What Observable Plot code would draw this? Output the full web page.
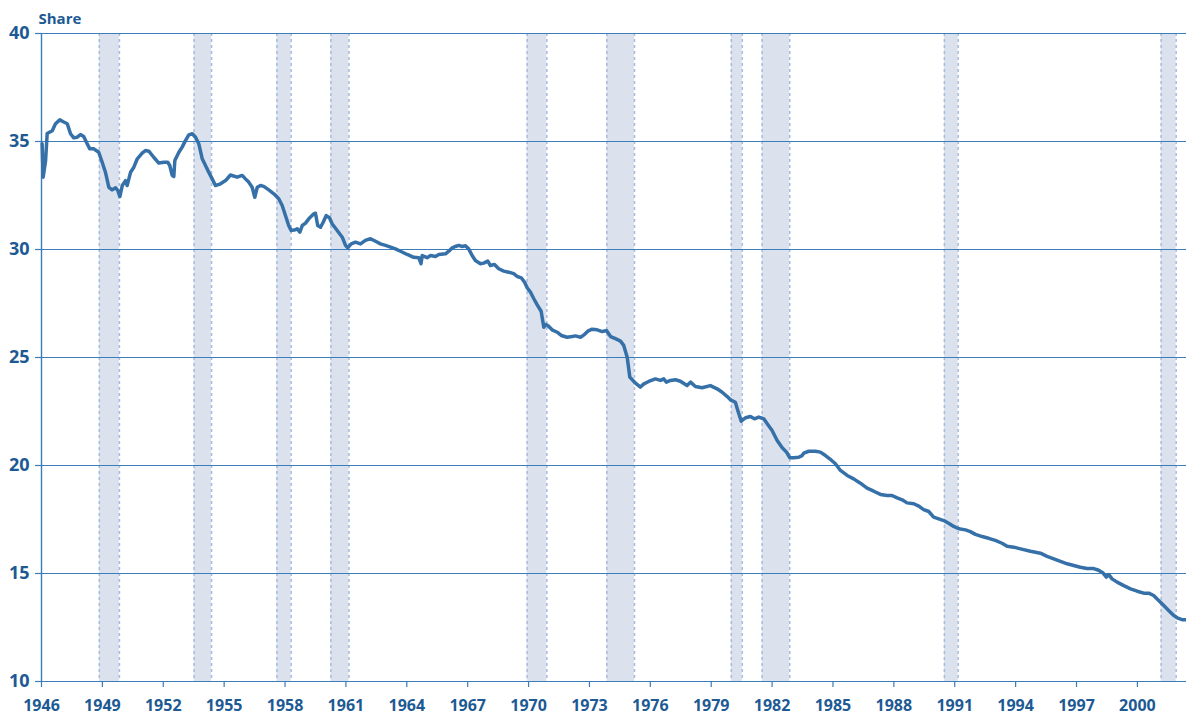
<!DOCTYPE html>
<html>
<head>
<meta charset="utf-8">
<script src="https://cdn.jsdelivr.net/npm/d3@7"></script>
<script src="https://cdn.jsdelivr.net/npm/@observablehq/plot@0.6"></script>
<style>
  html, body { margin: 0; padding: 0; background: #ffffff; }
  #chart { width: 1186px; height: 719px; }
</style>
</head>
<body>
<div id="chart"></div>
<script>
// Manufacturing share (percent)
const years = [
  1946.03,1946.08,1946.20,1946.28,1946.53,1946.69,1946.90,1947.10,1947.27,1947.43,1947.59,1947.76,1947.92,
  1948.08,1948.25,1948.38,1948.58,1948.82,1948.99,1949.15,1949.32,1949.48,1949.65,1949.76,1949.86,1949.98,
  1950.14,1950.22,1950.39,1950.55,1950.72,1950.96,1951.12,1951.29,1951.53,1951.78,1952.03,1952.22,1952.32,
  1952.44,1952.52,1952.57,1952.77,1952.93,1953.10,1953.26,1953.43,1953.59,1953.75,1953.92,1954.08,1954.24,
  1954.41,1954.57,1954.82,1955.07,1955.31,1955.64,1955.89,1956.05,1956.21,1956.38,1956.51,1956.63,1956.79,
  1956.95,1957.20,1957.45,1957.69,1957.86,1958.02,1958.18,1958.30,1958.51,1958.60,1958.73,1958.85,1959.01,
  1959.17,1959.42,1959.50,1959.61,1959.75,1959.88,1960.03,1960.19,1960.32,1960.57,1960.82,1960.98,1961.09,
  1961.26,1961.47,1961.72,1961.96,1962.21,1962.46,1962.70,1962.95,1963.20,1963.44,1963.69,1964.02,1964.34,
  1964.59,1964.70,1964.76,1965.00,1965.17,1965.41,1965.58,1965.91,1966.07,1966.24,1966.40,1966.56,1966.73,
  1966.89,1967.05,1967.22,1967.38,1967.63,1967.79,1967.99,1968.12,1968.32,1968.53,1968.78,1969.02,1969.27,
  1969.44,1969.64,1969.80,1969.93,1970.09,1970.26,1970.42,1970.62,1970.75,1970.83,1970.95,1971.16,1971.41,
  1971.61,1971.90,1972.15,1972.31,1972.56,1972.75,1972.92,1973.13,1973.38,1973.63,1973.84,1974.04,1974.28,
  1974.53,1974.69,1974.86,1974.99,1975.27,1975.51,1975.68,1975.92,1976.25,1976.50,1976.66,1976.79,1976.99,
  1977.24,1977.48,1977.81,1977.98,1978.22,1978.55,1978.96,1979.29,1979.54,1979.79,1979.95,1980.19,1980.31,
  1980.48,1980.69,1980.93,1981.13,1981.34,1981.59,1981.76,1982.00,1982.25,1982.50,1982.71,1982.87,1983.07,
  1983.31,1983.48,1983.56,1983.81,1984.14,1984.38,1984.63,1984.84,1985.12,1985.37,1985.70,1986.02,1986.35,
  1986.68,1987.01,1987.34,1987.67,1987.91,1988.16,1988.41,1988.65,1988.98,1989.23,1989.47,1989.72,1989.96,
  1990.21,1990.46,1990.70,1990.95,1991.20,1991.53,1991.77,1992.02,1992.35,1992.67,1993.00,1993.33,1993.58,
  1993.91,1994.24,1994.73,1995.22,1995.55,1995.88,1996.21,1996.54,1996.86,1997.19,1997.52,1997.85,1998.09,
  1998.31,1998.47,1998.59,1998.75,1999.00,1999.33,1999.66,1999.99,2000.31,2000.56,2000.80,2001.05,2001.30,
  2001.54,2001.79,2001.96,2002.20,2002.37
];
const shares = [
  34.90,33.35,34.10,35.37,35.50,35.82,36.00,35.90,35.82,35.36,35.17,35.20,35.32,
  35.23,34.90,34.66,34.66,34.50,34.04,33.58,32.88,32.76,32.86,32.73,32.45,32.96,
  33.19,32.96,33.58,33.81,34.20,34.46,34.58,34.55,34.27,34.00,34.04,34.04,33.89,
  33.43,33.38,34.12,34.50,34.74,35.05,35.31,35.36,35.20,34.90,34.20,33.89,33.58,
  33.27,32.96,33.04,33.19,33.45,33.35,33.43,33.27,33.12,32.88,32.42,32.88,32.96,
  32.92,32.76,32.58,32.35,32.04,31.57,31.11,30.88,30.91,30.96,30.80,31.11,31.22,
  31.42,31.65,31.68,31.11,31.03,31.26,31.57,31.47,31.19,30.88,30.57,30.19,30.08,
  30.26,30.34,30.26,30.42,30.50,30.38,30.26,30.19,30.11,30.03,29.92,29.77,29.64,
  29.62,29.34,29.72,29.62,29.72,29.68,29.77,29.80,29.92,30.08,30.14,30.19,30.14,
  30.17,30.03,29.72,29.49,29.34,29.37,29.46,29.26,29.31,29.11,29.00,28.95,28.88,
  28.75,28.69,28.49,28.23,28.03,27.72,27.45,27.14,26.40,26.53,26.48,26.28,26.17,
  26.02,25.94,25.97,26.00,25.94,26.06,26.22,26.31,26.28,26.20,26.25,25.97,25.87,
  25.76,25.56,25.01,24.09,23.81,23.63,23.78,23.89,24.01,23.94,24.01,23.86,23.94,
  23.97,23.90,23.70,23.86,23.66,23.60,23.70,23.55,23.39,23.19,23.04,22.93,22.55,
  22.05,22.21,22.27,22.16,22.24,22.16,21.93,21.62,21.16,20.82,20.62,20.36,20.36,
  20.38,20.46,20.57,20.66,20.66,20.62,20.46,20.31,20.08,19.77,19.54,19.38,19.18,
  18.95,18.81,18.66,18.61,18.61,18.50,18.41,18.27,18.23,18.12,17.96,17.87,17.61,
  17.53,17.45,17.33,17.18,17.07,17.02,16.94,16.81,16.71,16.63,16.53,16.40,16.26,
  16.22,16.14,16.03,15.94,15.79,15.68,15.56,15.45,15.37,15.29,15.23,15.23,15.15,
  15.02,14.83,14.95,14.75,14.60,14.44,14.29,14.18,14.09,14.09,13.98,13.75,13.52,
  13.29,13.06,12.95,12.86,12.86
];

// Recession periods (decimal years)
const recessionStart = [1948.85, 1953.52, 1957.60, 1960.26, 1969.93, 1973.86, 1979.99, 1981.51, 1990.49, 2001.17];
const recessionEnd   = [1949.84, 1954.38, 1958.30, 1961.15, 1970.90, 1975.22, 1980.53, 1982.87, 1991.17, 2001.91];

const xTicks = [1946,1949,1952,1955,1958,1961,1964,1967,1970,1973,1976,1979,1982,1985,1988,1991,1994,1997,2000];
const yTicks = [10,15,20,25,30,35,40];
const yLabel = "Share";

const series = years.map((y, i) => ({year: y, share: shares[i]}));
const recessions = recessionStart.map((s, i) => ({start: s, end: recessionEnd[i]}));

const textColor = "#1d5a93";
const gridColor = "#3b7cbb";
const lineColor = "#3571a8";

const chart = Plot.plot({
  width: 1186,
  height: 719,
  marginLeft: 41,
  marginRight: 0,
  marginTop: 33,
  marginBottom: 38,
  style: {color: textColor, fontFamily: "'Open Sans', 'Liberation Sans', sans-serif", fontWeight: "bold", background: "#ffffff"},
  x: {domain: [1946, 2002.42]},
  y: {domain: [10, 40]},
  marks: [
    Plot.rect(recessions, {x1: "start", x2: "end", fill: "#dbe2ee"}),
    Plot.ruleX(recessions, {x: "start", stroke: "#a7bbda", strokeWidth: 1.5, strokeDasharray: "3,3"}),
    Plot.ruleX(recessions, {x: "end", stroke: "#a7bbda", strokeWidth: 1.5, strokeDasharray: "3,3"}),
    Plot.ruleY(yTicks, {stroke: gridColor, strokeWidth: 1.2, strokeOpacity: 1}),
    Plot.ruleX([1946], {stroke: gridColor, strokeWidth: 1.4}),
    Plot.axisX({ticks: xTicks, tickFormat: d => String(d), tickSize: 6, tickPadding: 12, fontSize: 16, label: null, stroke: gridColor, strokeWidth: 1.2}),
    Plot.axisY({ticks: yTicks, tickSize: 6, tickPadding: 6, fontSize: 18, label: null, stroke: gridColor, strokeWidth: 1.2}),
    Plot.line(series, {x: "year", y: "share", stroke: lineColor, strokeWidth: 3.5, strokeLinejoin: "round", strokeLinecap: "round"}),
    Plot.text([yLabel], {frameAnchor: "top-left", text: d => d, dx: -3, dy: -10, lineAnchor: "bottom", textAnchor: "start", fontSize: 15, fill: textColor, style: "letter-spacing: 0.5px"})
  ]
});
document.getElementById("chart").appendChild(chart);
</script>
</body>
</html>
